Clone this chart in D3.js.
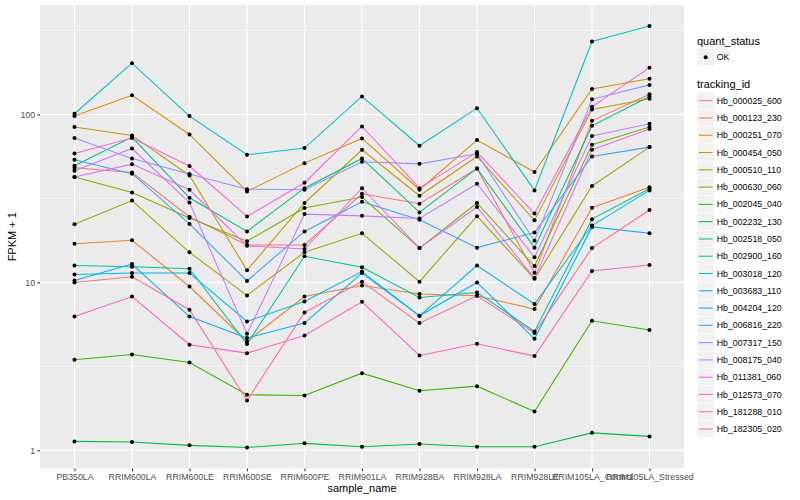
<!DOCTYPE html>
<html>
<head>
<meta charset="utf-8">
<script src="https://cdn.jsdelivr.net/npm/d3@7"></script>
<style>
  body { margin: 0; background: #fff; }
  text { font-family: "Liberation Sans", Arial, sans-serif; }
</style>
</head>
<body>
<svg width="800" height="500"></svg>
<script>
const samples = ["PB350LA", "RRIM600LA", "RRIM600LE", "RRIM600SE", "RRIM600PE", "RRIM901LA",
    "RRIM928BA", "RRIM928LA", "RRIM928LE", "RRIM105LA_Control", "RRIM105LA_Stressed"];

const trackingIds = ["Hb_000025_600", "Hb_000123_230", "Hb_000251_070", "Hb_000454_050", "Hb_000510_110",
    "Hb_000630_060", "Hb_002045_040", "Hb_002232_130", "Hb_002518_050", "Hb_002900_160",
    "Hb_003018_120", "Hb_003683_110", "Hb_004204_120", "Hb_006816_220", "Hb_007317_150",
    "Hb_008175_040", "Hb_011381_060", "Hb_012573_070", "Hb_181288_010", "Hb_182305_020"];

// FPKM + 1, one row per tracking_id, one value per sample
const fpkm = [
    [48.2, 45.1, 24.6, 16.7, 16.7, 33.7, 29.4, 47.7, 11.4, 91.7, 132],
    [17.0, 17.8, 9.45, 4.45, 8.24, 9.58, 8.52, 8.32, 6.93, 27.8, 36.9],
    [97.8, 130, 76.0, 34.8, 51.3, 72.0, 35.6, 70.4, 45.4, 142, 163],
    [84.1, 75.0, 43.3, 11.8, 29.7, 61.6, 32.8, 56.2, 23.4, 107, 124],
    [22.2, 30.7, 15.1, 8.36, 15.1, 19.6, 10.1, 24.8, 10.5, 37.5, 63.9],
    [42.4, 34.3, 24.2, 17.6, 27.7, 32.2, 16.0, 29.7, 12.5, 66.0, 84.1],
    [3.46, 3.72, 3.33, 2.14, 2.12, 2.88, 2.26, 2.41, 1.70, 5.91, 5.20],
    [1.13, 1.12, 1.07, 1.04, 1.10, 1.05, 1.09, 1.05, 1.05, 1.27, 1.21],
    [49.5, 73.3, 31.9, 20.1, 36.4, 54.7, 26.1, 47.7, 16.1, 85.6, 128],
    [12.6, 12.4, 12.05, 4.29, 14.3, 12.3, 8.13, 8.71, 5.10, 23.8, 36.1],
    [101, 202, 97.8, 57.5, 63.1, 128, 65.1, 109, 35.3, 272, 336],
    [11.15, 11.36, 11.36, 5.85, 7.69, 11.6, 6.32, 12.6, 7.43, 21.8, 35.3],
    [10.26, 12.85, 6.26, 4.66, 5.72, 11.36, 6.32, 9.99, 4.61, 21.4, 19.6],
    [53.7, 44.4, 22.3, 10.2, 20.1, 30.2, 23.6, 16.1, 19.8, 56.2, 63.9],
    [72.4, 54.7, 44.2, 35.9, 35.6, 52.3, 50.8, 58.3, 17.7, 123, 150],
    [46.2, 62.7, 29.9, 4.94, 25.5, 24.9, 24.0, 38.7, 14.1, 74.4, 88.0],
    [42.4, 50.6, 35.6, 16.5, 15.8, 36.4, 16.0, 28.1, 10.6, 61.6, 81.8],
    [58.6, 72.4, 49.3, 24.7, 39.2, 84.8, 36.4, 59.7, 25.7, 111, 190],
    [6.26, 8.24, 4.25, 3.79, 4.83, 7.66, 3.67, 4.31, 3.64, 11.7, 12.7],
    [9.99, 10.8, 6.87, 1.98, 6.62, 10.1, 5.72, 8.32, 4.99, 16.0, 27.0]
];

const quantStatus = ["OK"];
const yMajor = [1, 10, 100];
const yMinor = [Math.pow(10, 0.5), Math.pow(10, 1.5), Math.pow(10, 2.5)];

// ggplot default hue palette for 20 levels
const hueColours = ["#F8766D", "#EA8331", "#D89000", "#C09B00", "#A3A500", "#7CAE00", "#39B600", "#00BB4E",
    "#00BF7D", "#00C1A3", "#00BFC4", "#00BAE0", "#00B0F6", "#35A2FF", "#9590FF", "#C77CFF",
    "#E76BF3", "#FA62DB", "#FF62BC", "#FF6C91"];

const svg = d3.select("svg");
const panel = { left: 40, right: 684, top: 5, bottom: 468.5 };

const x = d3.scalePoint().domain(samples).range([panel.left, panel.right]).padding(0.6);

const allVals = fpkm.flat();
const lo = Math.log10(d3.min(allVals)), hi = Math.log10(d3.max(allVals));
const pad = (hi - lo) * 0.05;
const y = d3.scaleLog()
    .domain([Math.pow(10, lo - pad), Math.pow(10, hi + pad)])
    .range([panel.bottom, panel.top]);

const colour = d3.scaleOrdinal().domain(trackingIds).range(hueColours);

// panel
svg.append("rect")
    .attr("x", panel.left).attr("y", panel.top)
    .attr("width", panel.right - panel.left).attr("height", panel.bottom - panel.top)
    .attr("fill", "#EBEBEB");

const grid = svg.append("g").attr("stroke", "white");
grid.selectAll(".minor").data(yMinor).join("line")
    .attr("x1", panel.left).attr("x2", panel.right)
    .attr("y1", d => y(d)).attr("y2", d => y(d))
    .attr("stroke-width", 0.53);
grid.selectAll(".major").data(yMajor).join("line")
    .attr("x1", panel.left).attr("x2", panel.right)
    .attr("y1", d => y(d)).attr("y2", d => y(d))
    .attr("stroke-width", 1.07);
grid.selectAll(".vert").data(samples).join("line")
    .attr("x1", d => x(d)).attr("x2", d => x(d))
    .attr("y1", panel.top).attr("y2", panel.bottom)
    .attr("stroke-width", 1.07);

// lines
const line = d3.line()
    .x((d, i) => x(samples[i]))
    .y(d => y(d));

svg.append("g")
    .selectAll("path")
    .data(fpkm)
    .join("path")
    .attr("d", line)
    .attr("fill", "none")
    .attr("stroke", (d, i) => colour(trackingIds[i]))
    .attr("stroke-width", 1.07);

// points
svg.append("g")
    .selectAll("g")
    .data(fpkm)
    .join("g")
    .selectAll("circle")
    .data(d => d)
    .join("circle")
    .attr("cx", (d, i) => x(samples[i]))
    .attr("cy", d => y(d))
    .attr("r", 2)
    .attr("fill", "black");

// axes
const yAxis = svg.append("g")
    .attr("transform", `translate(${panel.left},0)`)
    .call(d3.axisLeft(y).tickValues(yMajor).tickFormat(d3.format("d")).tickSize(2.74).tickPadding(2.2));
const xAxis = svg.append("g")
    .attr("transform", `translate(0,${panel.bottom})`)
    .call(d3.axisBottom(x).tickSize(2.74).tickPadding(2.2));

[yAxis, xAxis].forEach(a => {
    a.select(".domain").remove();
    a.selectAll(".tick line").attr("stroke", "#333333").attr("stroke-width", 1.07);
    a.selectAll(".tick text")
        .attr("fill", "#4D4D4D")
        .style("font-size", "8.8px")
        .style("font-family", "'Liberation Sans', Arial, sans-serif");
});

svg.append("text")
    .attr("x", (panel.left + panel.right) / 2)
    .attr("y", 492)
    .attr("text-anchor", "middle")
    .style("font-size", "11px")
    .text("sample_name");

svg.append("text")
    .attr("transform", `translate(12,${(panel.top + panel.bottom) / 2}) rotate(-90)`)
    .attr("text-anchor", "middle")
    .attr("dy", "0.35em")
    .style("font-size", "11px")
    .text("FPKM + 1");

// legends
const keySize = 17.28;
const legend = svg.append("g").attr("transform", "translate(697,0)");

legend.append("text").attr("x", 0).attr("y", 44.6).style("font-size", "11px").text("quant_status");
const okKey = legend.selectAll(".ok").data(quantStatus).join("g")
    .attr("transform", (d, i) => `translate(0,${57.3 - keySize / 2 + i * keySize})`);
okKey.append("rect").attr("width", keySize).attr("height", keySize)
    .attr("fill", "#F2F2F2").attr("stroke", "white").attr("stroke-width", 0.5);
okKey.append("circle").attr("cx", keySize / 2).attr("cy", keySize / 2).attr("r", 2).attr("fill", "black");
okKey.append("text").attr("x", 19.7).attr("y", keySize / 2).attr("dy", "0.35em")
    .style("font-size", "8.8px").text(d => d);

legend.append("text").attr("x", 0).attr("y", 88).style("font-size", "11px").text("tracking_id");
const idKey = legend.selectAll(".id").data(trackingIds).join("g")
    .attr("transform", (d, i) => `translate(0,${100.7 - keySize / 2 + i * keySize})`);
idKey.append("rect").attr("width", keySize).attr("height", keySize)
    .attr("fill", "#F2F2F2").attr("stroke", "white").attr("stroke-width", 0.5);
idKey.append("line")
    .attr("x1", keySize * 0.1).attr("x2", keySize * 0.9)
    .attr("y1", keySize / 2).attr("y2", keySize / 2)
    .attr("stroke", d => colour(d)).attr("stroke-width", 1.07);
idKey.append("text").attr("x", 19.7).attr("y", keySize / 2).attr("dy", "0.35em")
    .style("font-size", "8.8px").text(d => d);
</script>
</body>
</html>
